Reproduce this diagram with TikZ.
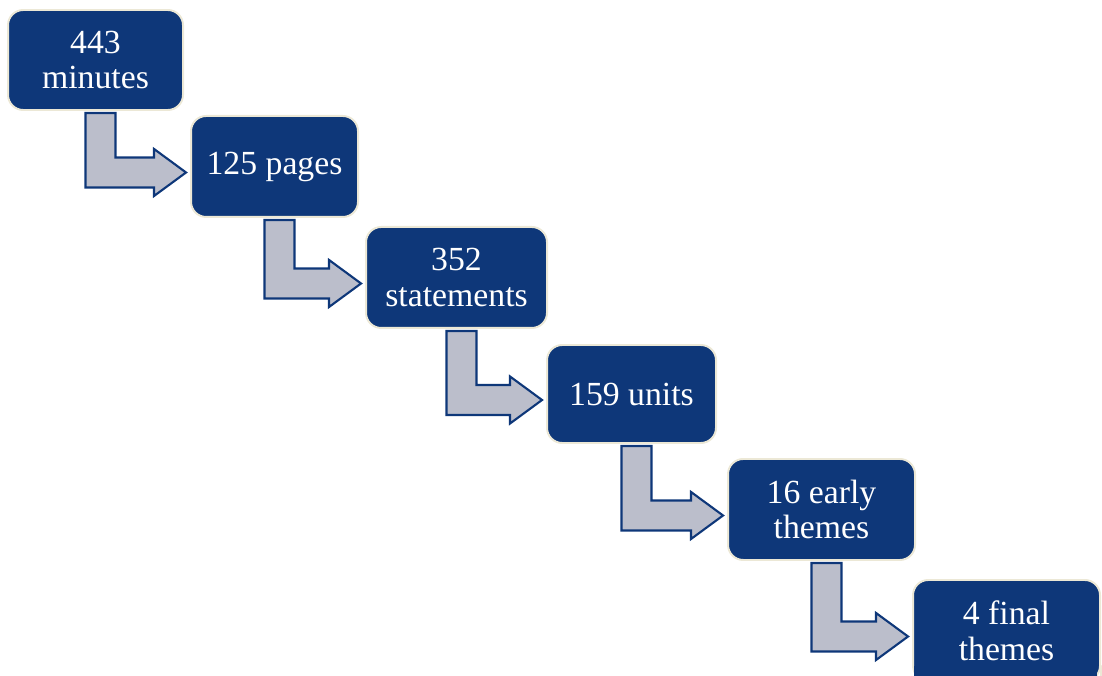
\documentclass[tikz,border=0pt]{standalone}
\usepackage{fontspec}
\setmainfont{Liberation Serif}
\usepackage{tikz}
\usetikzlibrary{calc}
\definecolor{boxblue}{HTML}{0E3779}
\definecolor{boxrim}{HTML}{ECE8D6}
\definecolor{arrowgray}{HTML}{BBBECB}
\tikzset{
  every picture/.style={line join=round, line cap=round},
  stage/.style={draw=boxrim, line width=1.4pt, fill=boxblue, rounded corners=0.38cm,
    text=white, align=center, inner sep=0pt, font=\fontsize{24}{25.5}\selectfont},
  bent/.style={draw=boxblue, line width=1.5pt, fill=arrowgray, line join=miter},
}
% bent block arrow from the bottom of one stage to the left side of the next
\newcommand{\bentArrow}[2]{%
  \path[bent] let \p1=($(#1.south)+(0.125,-0.05)$), \p2=($(#2.west)+(-0.1,-0.15)$) in
    (\x1-0.375cm,\y1) -- (\x1+0.375cm,\y1) -- (\x1+0.375cm,\y2+0.375cm)
    -- (\x2-0.8cm,\y2+0.375cm) -- (\x2-0.8cm,\y2+0.5875cm) -- (\x2,\y2)
    -- (\x2-0.8cm,\y2-0.5875cm) -- (\x2-0.8cm,\y2-0.375cm)
    -- (\x1-0.375cm,\y2-0.375cm) -- cycle;}

\begin{document}
\begin{tikzpicture}
\clip (0,0) rectangle (27.550,16.875);
\node[stage,minimum width=4.375cm,minimum height=2.500cm] (minutes) at (2.388,15.375) {443\\minutes};
\node[stage,minimum width=4.175cm,minimum height=2.525cm] (pages) at (6.863,12.713) {125 pages};
\node[stage,minimum width=4.525cm,minimum height=2.525cm] (statements) at (11.413,9.938) {352\\statements};
\node[stage,minimum width=4.225cm,minimum height=2.450cm] (units) at (15.788,7.025) {159 units};
\node[stage,minimum width=4.675cm,minimum height=2.525cm] (early) at (20.538,4.138) {16 early\\themes};
% last stage runs off the bottom edge
\node[stage,minimum width=4.675cm,minimum height=2.525cm,anchor=north] (final) at (25.163,2.400) {4 final\\themes};
\fill[boxblue] (final.south west) ++(0.05,0.4) rectangle ++(4.575,-0.8);
\draw[boxrim,line width=1.4pt] (final.south east) ++(0,0.4) -- ++(0,-0.8);
\bentArrow{minutes}{pages}
\bentArrow{pages}{statements}
\bentArrow{statements}{units}
\bentArrow{units}{early}
\bentArrow{early}{final}
\end{tikzpicture}
\end{document}
